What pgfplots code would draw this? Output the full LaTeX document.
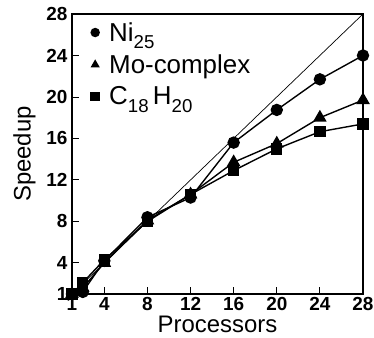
\documentclass[border=0pt]{standalone}
\usepackage{fontspec}
\setmainfont{Liberation Sans}
\usepackage{pgfplots}
\pgfplotsset{compat=1.18}
\newcommand{\sub}[1]{\raisebox{-0.3em}{\scalebox{0.72}{#1}}}
\begin{document}
\begin{tikzpicture}
\begin{axis}[
  at={(0,0)}, anchor=south west,
  scale only axis,
  width=291bp, height=280bp,
  xmin=1, xmax=28, ymin=1, ymax=28,
  xtick={1,4,8,12,16,20,24,28},
  ytick={1,4,8,12,16,20,24,28},
  tick pos=left,
  tick align=inside,
  major tick length=7bp,
  axis line style={line width=1.1pt},
  tick style={line width=0.9pt, black},
  /pgf/number format/assume math mode=true,
  ticklabel style={font=\fontsize{19}{19}\selectfont\bfseries},
  yticklabel style={xshift=-1bp},
  xlabel={Processors},
  ylabel={Speedup},
  label style={font=\fontsize{24}{24}\selectfont},
  xlabel style={yshift=2bp},
  ylabel style={yshift=4bp},
  legend style={draw=none, fill=none, at={(0.055,0.985)}, anchor=north west,
    font=\fontsize{26}{26}\selectfont, row sep=8bp,
    /tikz/every odd column/.append style={column sep=8bp}},
  legend cell align=left,
  legend image code/.code={\draw[#1, mark size=4bp] plot[only marks] coordinates {(0.2cm,0cm)};},
  every axis plot/.append style={black, line width=1.4pt},
  clip=false,
]
\addplot[line width=0.7pt, forget plot] coordinates {(1,1) (28,28)};
\addplot[mark=*, mark size=5.5bp] coordinates {
(1,1) (2,1.2) (4,4.2) (8,8.4) (12,10.3) (16,15.6) (20,18.75) (24,21.7) (28,24.0)};
\addlegendentry{Ni\sub{25}}
\addplot[mark=triangle*, mark size=6.5bp] coordinates {
(1,1) (2,1.6) (4,4.0) (8,8.1) (12,10.6) (16,13.7) (20,15.5) (24,18.0) (28,19.7)};
\addlegendentry{Mo-complex}
\addplot[mark=square*, mark size=5bp] coordinates {
(1,1) (2,2.1) (4,4.3) (8,8.0) (12,10.6) (16,12.9) (20,15.0) (24,16.65) (28,17.4)};
\addlegendentry{C\sub{18}\,H\sub{20}}
\end{axis}
\pgfresetboundingbox
\path (-72bp,-44bp) rectangle (302bp,294bp);
\end{tikzpicture}
\end{document}
